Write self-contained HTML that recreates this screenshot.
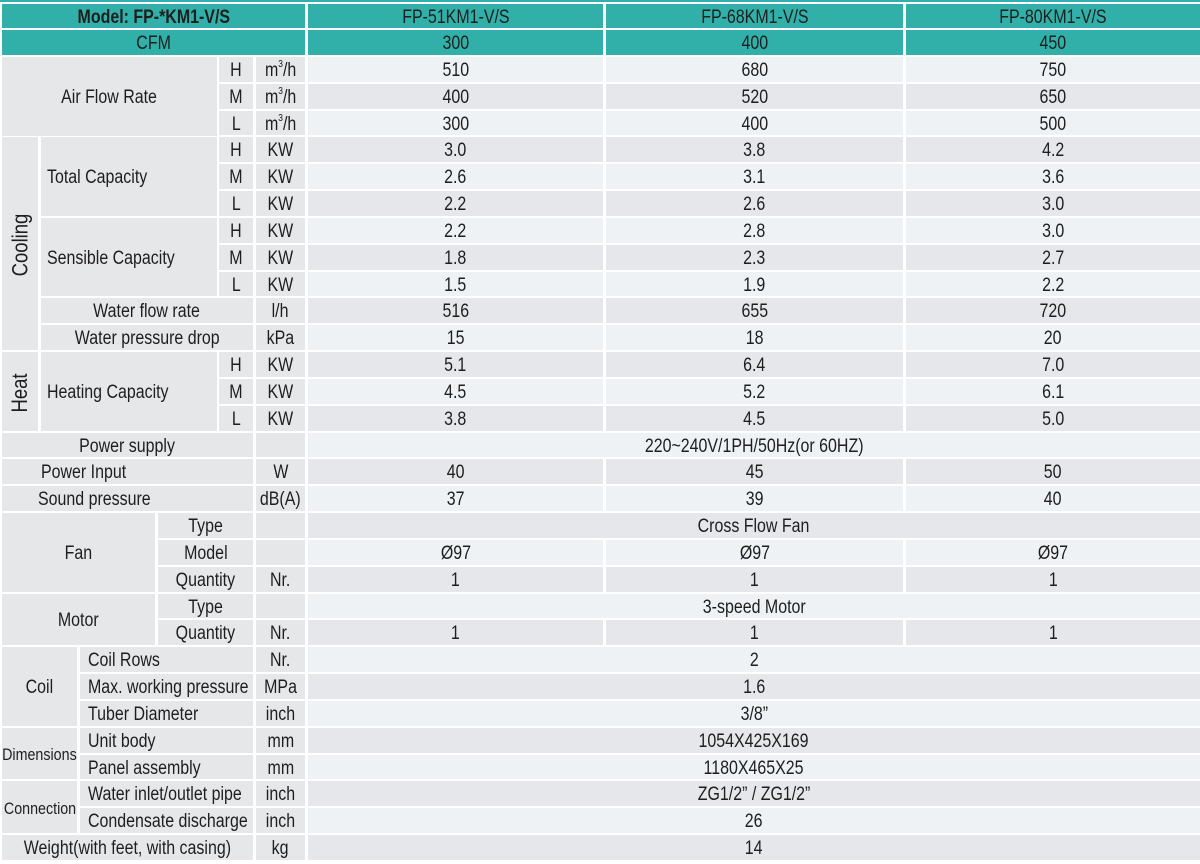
<!DOCTYPE html>
<html><head><meta charset="utf-8"><style>
body{margin:0;width:1200px;height:864px;background:#fff;position:relative;overflow:hidden;font-family:"Liberation Sans",sans-serif;font-size:19px;color:#1e1e1e}
.c{position:absolute;display:flex;align-items:center;justify-content:center;padding-top:3px;box-sizing:border-box;white-space:nowrap;background:#e6e7e9}
.c>span{display:inline-block;transform:scaleX(0.84);transform-origin:center}
.l>span{transform-origin:left center}
.t{background:#31b0a9}
.l{justify-content:flex-start;padding-left:8px}
.a{background:#eef2f5}.b{background:#e6e7ea}
sup{font-size:10px;vertical-align:top;line-height:10px}
.c>span.v{transform:rotate(-90deg) scaleX(0.84);font-size:22px}
</style></head><body>
<div style="position:absolute;left:0;top:0;width:1200px;height:2px;background:#31b0a9"></div>
<div class="c t" style="left:2px;top:4px;width:303px;height:24px;font-weight:bold"><span>Model: FP-*KM1-V/S</span></div>
<div class="c t" style="left:2px;top:30px;width:303px;height:25px"><span>CFM</span></div>
<div class="c t" style="left:308px;top:4px;width:295px;height:24px"><span>FP-51KM1-V/S</span></div>
<div class="c t" style="left:606px;top:4px;width:297px;height:24px"><span>FP-68KM1-V/S</span></div>
<div class="c t" style="left:906px;top:4px;width:294px;height:24px"><span>FP-80KM1-V/S</span></div>
<div class="c t" style="left:308px;top:30px;width:295px;height:25px"><span>300</span></div>
<div class="c t" style="left:606px;top:30px;width:297px;height:25px"><span>400</span></div>
<div class="c t" style="left:906px;top:30px;width:294px;height:25px"><span>450</span></div>

<div class="c" style="left:2px;top:57px;width:215px;height:79px"><span>Air Flow Rate</span></div>
<div class="c" style="left:2px;top:137px;width:36px;height:213px"><span class="v">Cooling</span></div>
<div class="c l" style="left:41px;top:137px;width:176px;height:79px;padding-left:6px"><span>Total Capacity</span></div>
<div class="c l" style="left:41px;top:218px;width:176px;height:78px;padding-left:6px"><span>Sensible Capacity</span></div>
<div class="c" style="left:41px;top:298px;width:212px;height:25px"><span>Water flow rate</span></div>
<div class="c" style="left:41px;top:325px;width:212px;height:25px"><span>Water pressure drop</span></div>
<div class="c" style="left:2px;top:352px;width:36px;height:79px"><span class="v">Heat</span></div>
<div class="c l" style="left:41px;top:352px;width:176px;height:79px;padding-left:6px"><span>Heating Capacity</span></div>
<div class="c" style="left:2px;top:433px;width:251px;height:24px"><span>Power supply</span></div>
<div class="c l" style="left:2px;top:459px;width:251px;height:25px;padding-left:39px"><span>Power Input</span></div>
<div class="c l" style="left:2px;top:486px;width:251px;height:25px;padding-left:36px"><span>Sound pressure</span></div>
<div class="c" style="left:2px;top:513px;width:153px;height:79px"><span>Fan</span></div>
<div class="c" style="left:2px;top:594px;width:153px;height:51px"><span>Motor</span></div>
<div class="c" style="left:2px;top:647px;width:75px;height:79px"><span>Coil</span></div>
<div class="c" style="left:2px;top:728px;width:75px;height:51px;font-size:17px"><span>Dimensions</span></div>
<div class="c" style="left:2px;top:781px;width:75px;height:52px;font-size:17px"><span>Connection</span></div>
<div class="c" style="left:2px;top:835px;width:251px;height:25px"><span>Weight(with feet, with casing)</span></div>

<div class="c" style="left:219px;top:57px;width:34px;height:25px"><span>H</span></div>
<div class="c" style="left:219px;top:84px;width:34px;height:25px"><span>M</span></div>
<div class="c" style="left:219px;top:111px;width:34px;height:24px"><span>L</span></div>
<div class="c" style="left:219px;top:137px;width:34px;height:25px"><span>H</span></div>
<div class="c" style="left:219px;top:164px;width:34px;height:25px"><span>M</span></div>
<div class="c" style="left:219px;top:191px;width:34px;height:25px"><span>L</span></div>
<div class="c" style="left:219px;top:218px;width:34px;height:25px"><span>H</span></div>
<div class="c" style="left:219px;top:245px;width:34px;height:25px"><span>M</span></div>
<div class="c" style="left:219px;top:272px;width:34px;height:24px"><span>L</span></div>
<div class="c" style="left:219px;top:352px;width:34px;height:25px"><span>H</span></div>
<div class="c" style="left:219px;top:379px;width:34px;height:25px"><span>M</span></div>
<div class="c" style="left:219px;top:406px;width:34px;height:25px"><span>L</span></div>
<div class="c" style="left:158px;top:513px;width:95px;height:25px"><span>Type</span></div>
<div class="c" style="left:158px;top:540px;width:95px;height:25px"><span>Model</span></div>
<div class="c" style="left:158px;top:567px;width:95px;height:25px"><span>Quantity</span></div>
<div class="c" style="left:158px;top:594px;width:95px;height:24px"><span>Type</span></div>
<div class="c" style="left:158px;top:620px;width:95px;height:25px"><span>Quantity</span></div>
<div class="c l" style="left:80px;top:647px;width:173px;height:25px"><span>Coil Rows</span></div>
<div class="c l" style="left:80px;top:674px;width:173px;height:25px"><span>Max. working pressure</span></div>
<div class="c l" style="left:80px;top:701px;width:173px;height:25px"><span>Tuber Diameter</span></div>
<div class="c l" style="left:80px;top:728px;width:173px;height:25px"><span>Unit body</span></div>
<div class="c l" style="left:80px;top:755px;width:173px;height:24px"><span>Panel assembly</span></div>
<div class="c l" style="left:80px;top:781px;width:173px;height:25px"><span>Water inlet/outlet pipe</span></div>
<div class="c l" style="left:80px;top:808px;width:173px;height:25px"><span>Condensate discharge</span></div>

<div class="c" style="left:256px;top:57px;width:49px;height:25px"><span>m<sup>3</sup>/h</span></div>
<div class="c" style="left:256px;top:84px;width:49px;height:25px"><span>m<sup>3</sup>/h</span></div>
<div class="c" style="left:256px;top:111px;width:49px;height:24px"><span>m<sup>3</sup>/h</span></div>
<div class="c" style="left:256px;top:137px;width:49px;height:25px"><span>KW</span></div>
<div class="c" style="left:256px;top:164px;width:49px;height:25px"><span>KW</span></div>
<div class="c" style="left:256px;top:191px;width:49px;height:25px"><span>KW</span></div>
<div class="c" style="left:256px;top:218px;width:49px;height:25px"><span>KW</span></div>
<div class="c" style="left:256px;top:245px;width:49px;height:25px"><span>KW</span></div>
<div class="c" style="left:256px;top:272px;width:49px;height:24px"><span>KW</span></div>
<div class="c" style="left:256px;top:298px;width:49px;height:25px"><span>l/h</span></div>
<div class="c" style="left:256px;top:325px;width:49px;height:25px"><span>kPa</span></div>
<div class="c" style="left:256px;top:352px;width:49px;height:25px"><span>KW</span></div>
<div class="c" style="left:256px;top:379px;width:49px;height:25px"><span>KW</span></div>
<div class="c" style="left:256px;top:406px;width:49px;height:25px"><span>KW</span></div>
<div class="c" style="left:256px;top:433px;width:49px;height:24px"></div>
<div class="c" style="left:256px;top:459px;width:49px;height:25px"><span>W</span></div>
<div class="c" style="left:256px;top:486px;width:49px;height:25px"><span>dB(A)</span></div>
<div class="c" style="left:256px;top:513px;width:49px;height:25px"></div>
<div class="c" style="left:256px;top:540px;width:49px;height:25px"></div>
<div class="c" style="left:256px;top:567px;width:49px;height:25px"><span>Nr.</span></div>
<div class="c" style="left:256px;top:594px;width:49px;height:24px"></div>
<div class="c" style="left:256px;top:620px;width:49px;height:25px"><span>Nr.</span></div>
<div class="c" style="left:256px;top:647px;width:49px;height:25px"><span>Nr.</span></div>
<div class="c" style="left:256px;top:674px;width:49px;height:25px"><span>MPa</span></div>
<div class="c" style="left:256px;top:701px;width:49px;height:25px"><span>inch</span></div>
<div class="c" style="left:256px;top:728px;width:49px;height:25px"><span>mm</span></div>
<div class="c" style="left:256px;top:755px;width:49px;height:24px"><span>mm</span></div>
<div class="c" style="left:256px;top:781px;width:49px;height:25px"><span>inch</span></div>
<div class="c" style="left:256px;top:808px;width:49px;height:25px"><span>inch</span></div>
<div class="c" style="left:256px;top:835px;width:49px;height:25px"><span>kg</span></div>

<div class="c a" style="left:308px;top:57px;width:295px;height:25px"><span>510</span></div><div class="c a" style="left:606px;top:57px;width:297px;height:25px"><span>680</span></div><div class="c a" style="left:906px;top:57px;width:294px;height:25px"><span>750</span></div>
<div class="c b" style="left:308px;top:84px;width:295px;height:25px"><span>400</span></div><div class="c b" style="left:606px;top:84px;width:297px;height:25px"><span>520</span></div><div class="c b" style="left:906px;top:84px;width:294px;height:25px"><span>650</span></div>
<div class="c a" style="left:308px;top:111px;width:295px;height:24px"><span>300</span></div><div class="c a" style="left:606px;top:111px;width:297px;height:24px"><span>400</span></div><div class="c a" style="left:906px;top:111px;width:294px;height:24px"><span>500</span></div>
<div class="c b" style="left:308px;top:137px;width:295px;height:25px"><span>3.0</span></div><div class="c b" style="left:606px;top:137px;width:297px;height:25px"><span>3.8</span></div><div class="c b" style="left:906px;top:137px;width:294px;height:25px"><span>4.2</span></div>
<div class="c a" style="left:308px;top:164px;width:295px;height:25px"><span>2.6</span></div><div class="c a" style="left:606px;top:164px;width:297px;height:25px"><span>3.1</span></div><div class="c a" style="left:906px;top:164px;width:294px;height:25px"><span>3.6</span></div>
<div class="c b" style="left:308px;top:191px;width:295px;height:25px"><span>2.2</span></div><div class="c b" style="left:606px;top:191px;width:297px;height:25px"><span>2.6</span></div><div class="c b" style="left:906px;top:191px;width:294px;height:25px"><span>3.0</span></div>
<div class="c a" style="left:308px;top:218px;width:295px;height:25px"><span>2.2</span></div><div class="c a" style="left:606px;top:218px;width:297px;height:25px"><span>2.8</span></div><div class="c a" style="left:906px;top:218px;width:294px;height:25px"><span>3.0</span></div>
<div class="c b" style="left:308px;top:245px;width:295px;height:25px"><span>1.8</span></div><div class="c b" style="left:606px;top:245px;width:297px;height:25px"><span>2.3</span></div><div class="c b" style="left:906px;top:245px;width:294px;height:25px"><span>2.7</span></div>
<div class="c a" style="left:308px;top:272px;width:295px;height:24px"><span>1.5</span></div><div class="c a" style="left:606px;top:272px;width:297px;height:24px"><span>1.9</span></div><div class="c a" style="left:906px;top:272px;width:294px;height:24px"><span>2.2</span></div>
<div class="c b" style="left:308px;top:298px;width:295px;height:25px"><span>516</span></div><div class="c b" style="left:606px;top:298px;width:297px;height:25px"><span>655</span></div><div class="c b" style="left:906px;top:298px;width:294px;height:25px"><span>720</span></div>
<div class="c a" style="left:308px;top:325px;width:295px;height:25px"><span>15</span></div><div class="c a" style="left:606px;top:325px;width:297px;height:25px"><span>18</span></div><div class="c a" style="left:906px;top:325px;width:294px;height:25px"><span>20</span></div>
<div class="c b" style="left:308px;top:352px;width:295px;height:25px"><span>5.1</span></div><div class="c b" style="left:606px;top:352px;width:297px;height:25px"><span>6.4</span></div><div class="c b" style="left:906px;top:352px;width:294px;height:25px"><span>7.0</span></div>
<div class="c a" style="left:308px;top:379px;width:295px;height:25px"><span>4.5</span></div><div class="c a" style="left:606px;top:379px;width:297px;height:25px"><span>5.2</span></div><div class="c a" style="left:906px;top:379px;width:294px;height:25px"><span>6.1</span></div>
<div class="c b" style="left:308px;top:406px;width:295px;height:25px"><span>3.8</span></div><div class="c b" style="left:606px;top:406px;width:297px;height:25px"><span>4.5</span></div><div class="c b" style="left:906px;top:406px;width:294px;height:25px"><span>5.0</span></div>
<div class="c a" style="left:308px;top:433px;width:892px;height:24px"><span>220~240V/1PH/50Hz(or 60HZ)</span></div>
<div class="c b" style="left:308px;top:459px;width:295px;height:25px"><span>40</span></div><div class="c b" style="left:606px;top:459px;width:297px;height:25px"><span>45</span></div><div class="c b" style="left:906px;top:459px;width:294px;height:25px"><span>50</span></div>
<div class="c a" style="left:308px;top:486px;width:295px;height:25px"><span>37</span></div><div class="c a" style="left:606px;top:486px;width:297px;height:25px"><span>39</span></div><div class="c a" style="left:906px;top:486px;width:294px;height:25px"><span>40</span></div>
<div class="c b" style="left:308px;top:513px;width:892px;height:25px"><span>Cross Flow Fan</span></div>
<div class="c a" style="left:308px;top:540px;width:295px;height:25px"><span>Ø97</span></div><div class="c a" style="left:606px;top:540px;width:297px;height:25px"><span>Ø97</span></div><div class="c a" style="left:906px;top:540px;width:294px;height:25px"><span>Ø97</span></div>
<div class="c b" style="left:308px;top:567px;width:295px;height:25px"><span>1</span></div><div class="c b" style="left:606px;top:567px;width:297px;height:25px"><span>1</span></div><div class="c b" style="left:906px;top:567px;width:294px;height:25px"><span>1</span></div>
<div class="c a" style="left:308px;top:594px;width:892px;height:24px"><span>3-speed Motor</span></div>
<div class="c b" style="left:308px;top:620px;width:295px;height:25px"><span>1</span></div><div class="c b" style="left:606px;top:620px;width:297px;height:25px"><span>1</span></div><div class="c b" style="left:906px;top:620px;width:294px;height:25px"><span>1</span></div>
<div class="c a" style="left:308px;top:647px;width:892px;height:25px"><span>2</span></div>
<div class="c b" style="left:308px;top:674px;width:892px;height:25px"><span>1.6</span></div>
<div class="c a" style="left:308px;top:701px;width:892px;height:25px"><span>3/8”</span></div>
<div class="c b" style="left:308px;top:728px;width:892px;height:25px"><span>1054X425X169</span></div>
<div class="c a" style="left:308px;top:755px;width:892px;height:24px"><span>1180X465X25</span></div>
<div class="c b" style="left:308px;top:781px;width:892px;height:25px"><span>ZG1/2” / ZG1/2”</span></div>
<div class="c a" style="left:308px;top:808px;width:892px;height:25px"><span>26</span></div>
<div class="c b" style="left:308px;top:835px;width:892px;height:25px"><span>14</span></div>
</body></html>
